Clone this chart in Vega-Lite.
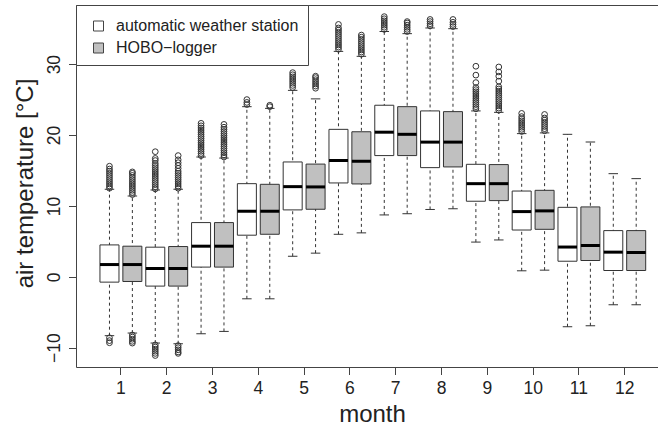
{
  "$schema": "https://vega.github.io/schema/vega-lite/v6.json",
  "width": 582,
  "height": 362,
  "autosize": "none",
  "padding": {"left": 76, "top": 5, "right": 0, "bottom": 62},
  "background": "white",
  "config": {
    "font": "Liberation Sans",
    "view": {"stroke": null},
    "axis": {"grid": false, "domainColor": "#444", "tickColor": "#444", "labelColor": "#222", "titleColor": "#222", "titleFontWeight": "normal"}
  },
  "datasets": {
    "boxes": [
      {"month": 1, "device": "automatic weather station", "lo": -8.3, "q1": -0.75, "med": 1.73, "q3": 4.5, "hi": 12.35},
      {"month": 1, "device": "HOBO−logger", "lo": -7.93, "q1": -0.66, "med": 1.73, "q3": 4.32, "hi": 11.4},
      {"month": 2, "device": "automatic weather station", "lo": -9.34, "q1": -1.31, "med": 1.17, "q3": 4.18, "hi": 12.25},
      {"month": 2, "device": "HOBO−logger", "lo": -9.44, "q1": -1.31, "med": 1.17, "q3": 4.27, "hi": 12.35},
      {"month": 3, "device": "automatic weather station", "lo": -8.03, "q1": 1.37, "med": 4.32, "q3": 7.65, "hi": 16.9},
      {"month": 3, "device": "HOBO−logger", "lo": -7.7, "q1": 1.37, "med": 4.32, "q3": 7.65, "hi": 16.75},
      {"month": 4, "device": "automatic weather station", "lo": -3.1, "q1": 5.87, "med": 9.25, "q3": 13.14, "hi": 24.0},
      {"month": 4, "device": "HOBO−logger", "lo": -3.1, "q1": 6.0, "med": 9.25, "q3": 13.05, "hi": 23.76},
      {"month": 5, "device": "automatic weather station", "lo": 2.9, "q1": 9.44, "med": 12.72, "q3": 16.2, "hi": 26.3},
      {"month": 5, "device": "HOBO−logger", "lo": 3.34, "q1": 9.53, "med": 12.68, "q3": 15.9, "hi": 25.1},
      {"month": 6, "device": "automatic weather station", "lo": 6.0, "q1": 13.24, "med": 16.4, "q3": 20.8, "hi": 31.8},
      {"month": 6, "device": "HOBO−logger", "lo": 6.2, "q1": 13.1, "med": 16.3, "q3": 20.46, "hi": 31.1},
      {"month": 7, "device": "automatic weather station", "lo": 8.73, "q1": 17.1, "med": 20.4, "q3": 24.2, "hi": 34.6},
      {"month": 7, "device": "HOBO−logger", "lo": 8.9, "q1": 17.1, "med": 20.1, "q3": 24.0, "hi": 34.3},
      {"month": 8, "device": "automatic weather station", "lo": 9.5, "q1": 15.4, "med": 19.0, "q3": 23.4, "hi": 35.1},
      {"month": 8, "device": "HOBO−logger", "lo": 9.6, "q1": 15.5, "med": 19.0, "q3": 23.3, "hi": 35.0},
      {"month": 9, "device": "automatic weather station", "lo": 4.9, "q1": 10.66, "med": 13.14, "q3": 15.87, "hi": 23.4},
      {"month": 9, "device": "HOBO−logger", "lo": 5.2, "q1": 10.75, "med": 13.14, "q3": 15.83, "hi": 23.2},
      {"month": 10, "device": "automatic weather station", "lo": 0.85, "q1": 6.6, "med": 9.2, "q3": 12.1, "hi": 20.2},
      {"month": 10, "device": "HOBO−logger", "lo": 0.94, "q1": 6.7, "med": 9.3, "q3": 12.2, "hi": 20.3},
      {"month": 11, "device": "automatic weather station", "lo": -7.04, "q1": 2.2, "med": 4.2, "q3": 9.8, "hi": 20.1},
      {"month": 11, "device": "HOBO−logger", "lo": -6.9, "q1": 2.3, "med": 4.4, "q3": 9.86, "hi": 19.0},
      {"month": 12, "device": "automatic weather station", "lo": -3.94, "q1": 0.89, "med": 3.48, "q3": 6.52, "hi": 14.55},
      {"month": 12, "device": "HOBO−logger", "lo": -3.94, "q1": 0.89, "med": 3.43, "q3": 6.52, "hi": 13.85}
    ],
    "outliers": [
      {"month": 1, "device": "automatic weather station", "t": 12.5}, {"month": 1, "device": "automatic weather station", "t": 12.8}, {"month": 1, "device": "automatic weather station", "t": 13.1}, {"month": 1, "device": "automatic weather station", "t": 13.4}, {"month": 1, "device": "automatic weather station", "t": 13.7}, {"month": 1, "device": "automatic weather station", "t": 14.0}, {"month": 1, "device": "automatic weather station", "t": 14.3}, {"month": 1, "device": "automatic weather station", "t": 14.6}, {"month": 1, "device": "automatic weather station", "t": 14.9}, {"month": 1, "device": "automatic weather station", "t": 15.2}, {"month": 1, "device": "automatic weather station", "t": 15.6}, {"month": 1, "device": "automatic weather station", "t": -8.6}, {"month": 1, "device": "automatic weather station", "t": -9.0}, {"month": 1, "device": "automatic weather station", "t": -9.3},
      {"month": 1, "device": "HOBO−logger", "t": 11.6}, {"month": 1, "device": "HOBO−logger", "t": 11.9}, {"month": 1, "device": "HOBO−logger", "t": 12.2}, {"month": 1, "device": "HOBO−logger", "t": 12.5}, {"month": 1, "device": "HOBO−logger", "t": 12.8}, {"month": 1, "device": "HOBO−logger", "t": 13.1}, {"month": 1, "device": "HOBO−logger", "t": 13.4}, {"month": 1, "device": "HOBO−logger", "t": 13.7}, {"month": 1, "device": "HOBO−logger", "t": 14.0}, {"month": 1, "device": "HOBO−logger", "t": 14.3}, {"month": 1, "device": "HOBO−logger", "t": 14.6}, {"month": 1, "device": "HOBO−logger", "t": 14.8}, {"month": 1, "device": "HOBO−logger", "t": -8.2}, {"month": 1, "device": "HOBO−logger", "t": -8.5}, {"month": 1, "device": "HOBO−logger", "t": -8.8}, {"month": 1, "device": "HOBO−logger", "t": -9.1}, {"month": 1, "device": "HOBO−logger", "t": -9.35},
      {"month": 2, "device": "automatic weather station", "t": 12.4}, {"month": 2, "device": "automatic weather station", "t": 12.7}, {"month": 2, "device": "automatic weather station", "t": 13.0}, {"month": 2, "device": "automatic weather station", "t": 13.3}, {"month": 2, "device": "automatic weather station", "t": 13.6}, {"month": 2, "device": "automatic weather station", "t": 13.9}, {"month": 2, "device": "automatic weather station", "t": 14.2}, {"month": 2, "device": "automatic weather station", "t": 14.5}, {"month": 2, "device": "automatic weather station", "t": 14.8}, {"month": 2, "device": "automatic weather station", "t": 15.1}, {"month": 2, "device": "automatic weather station", "t": 15.4}, {"month": 2, "device": "automatic weather station", "t": 15.7}, {"month": 2, "device": "automatic weather station", "t": 16.0}, {"month": 2, "device": "automatic weather station", "t": 16.4}, {"month": 2, "device": "automatic weather station", "t": 16.7}, {"month": 2, "device": "automatic weather station", "t": 17.65}, {"month": 2, "device": "automatic weather station", "t": -9.6}, {"month": 2, "device": "automatic weather station", "t": -9.9}, {"month": 2, "device": "automatic weather station", "t": -10.2}, {"month": 2, "device": "automatic weather station", "t": -10.5}, {"month": 2, "device": "automatic weather station", "t": -10.8}, {"month": 2, "device": "automatic weather station", "t": -11.1},
      {"month": 2, "device": "HOBO−logger", "t": 12.5}, {"month": 2, "device": "HOBO−logger", "t": 12.8}, {"month": 2, "device": "HOBO−logger", "t": 13.1}, {"month": 2, "device": "HOBO−logger", "t": 13.4}, {"month": 2, "device": "HOBO−logger", "t": 13.7}, {"month": 2, "device": "HOBO−logger", "t": 14.0}, {"month": 2, "device": "HOBO−logger", "t": 14.3}, {"month": 2, "device": "HOBO−logger", "t": 14.6}, {"month": 2, "device": "HOBO−logger", "t": 14.9}, {"month": 2, "device": "HOBO−logger", "t": 15.3}, {"month": 2, "device": "HOBO−logger", "t": 15.7}, {"month": 2, "device": "HOBO−logger", "t": 16.1}, {"month": 2, "device": "HOBO−logger", "t": 16.5}, {"month": 2, "device": "HOBO−logger", "t": 17.1}, {"month": 2, "device": "HOBO−logger", "t": -9.7}, {"month": 2, "device": "HOBO−logger", "t": -10.0}, {"month": 2, "device": "HOBO−logger", "t": -10.3}, {"month": 2, "device": "HOBO−logger", "t": -10.6}, {"month": 2, "device": "HOBO−logger", "t": -10.8},
      {"month": 3, "device": "automatic weather station", "t": 17.1}, {"month": 3, "device": "automatic weather station", "t": 17.4}, {"month": 3, "device": "automatic weather station", "t": 17.7}, {"month": 3, "device": "automatic weather station", "t": 18.0}, {"month": 3, "device": "automatic weather station", "t": 18.3}, {"month": 3, "device": "automatic weather station", "t": 18.6}, {"month": 3, "device": "automatic weather station", "t": 18.9}, {"month": 3, "device": "automatic weather station", "t": 19.2}, {"month": 3, "device": "automatic weather station", "t": 19.5}, {"month": 3, "device": "automatic weather station", "t": 19.8}, {"month": 3, "device": "automatic weather station", "t": 20.1}, {"month": 3, "device": "automatic weather station", "t": 20.4}, {"month": 3, "device": "automatic weather station", "t": 20.7}, {"month": 3, "device": "automatic weather station", "t": 21.0}, {"month": 3, "device": "automatic weather station", "t": 21.3}, {"month": 3, "device": "automatic weather station", "t": 21.65},
      {"month": 3, "device": "HOBO−logger", "t": 16.9}, {"month": 3, "device": "HOBO−logger", "t": 17.2}, {"month": 3, "device": "HOBO−logger", "t": 17.5}, {"month": 3, "device": "HOBO−logger", "t": 17.8}, {"month": 3, "device": "HOBO−logger", "t": 18.1}, {"month": 3, "device": "HOBO−logger", "t": 18.4}, {"month": 3, "device": "HOBO−logger", "t": 18.7}, {"month": 3, "device": "HOBO−logger", "t": 19.0}, {"month": 3, "device": "HOBO−logger", "t": 19.3}, {"month": 3, "device": "HOBO−logger", "t": 19.6}, {"month": 3, "device": "HOBO−logger", "t": 19.9}, {"month": 3, "device": "HOBO−logger", "t": 20.2}, {"month": 3, "device": "HOBO−logger", "t": 20.5}, {"month": 3, "device": "HOBO−logger", "t": 20.8}, {"month": 3, "device": "HOBO−logger", "t": 21.1}, {"month": 3, "device": "HOBO−logger", "t": 21.5},
      {"month": 4, "device": "automatic weather station", "t": 24.3}, {"month": 4, "device": "automatic weather station", "t": 24.6}, {"month": 4, "device": "automatic weather station", "t": 25.0},
      {"month": 4, "device": "HOBO−logger", "t": 24.0}, {"month": 4, "device": "HOBO−logger", "t": 24.2},
      {"month": 5, "device": "automatic weather station", "t": 26.7}, {"month": 5, "device": "automatic weather station", "t": 27.0}, {"month": 5, "device": "automatic weather station", "t": 27.3}, {"month": 5, "device": "automatic weather station", "t": 27.6}, {"month": 5, "device": "automatic weather station", "t": 27.9}, {"month": 5, "device": "automatic weather station", "t": 28.2}, {"month": 5, "device": "automatic weather station", "t": 28.5}, {"month": 5, "device": "automatic weather station", "t": 28.8},
      {"month": 5, "device": "HOBO−logger", "t": 26.6}, {"month": 5, "device": "HOBO−logger", "t": 26.9}, {"month": 5, "device": "HOBO−logger", "t": 27.2}, {"month": 5, "device": "HOBO−logger", "t": 27.5}, {"month": 5, "device": "HOBO−logger", "t": 27.8}, {"month": 5, "device": "HOBO−logger", "t": 28.1}, {"month": 5, "device": "HOBO−logger", "t": 28.3},
      {"month": 6, "device": "automatic weather station", "t": 32.1}, {"month": 6, "device": "automatic weather station", "t": 32.4}, {"month": 6, "device": "automatic weather station", "t": 32.7}, {"month": 6, "device": "automatic weather station", "t": 33.0}, {"month": 6, "device": "automatic weather station", "t": 33.3}, {"month": 6, "device": "automatic weather station", "t": 33.6}, {"month": 6, "device": "automatic weather station", "t": 33.9}, {"month": 6, "device": "automatic weather station", "t": 34.2}, {"month": 6, "device": "automatic weather station", "t": 34.5}, {"month": 6, "device": "automatic weather station", "t": 34.8}, {"month": 6, "device": "automatic weather station", "t": 35.1}, {"month": 6, "device": "automatic weather station", "t": 35.6},
      {"month": 6, "device": "HOBO−logger", "t": 31.4}, {"month": 6, "device": "HOBO−logger", "t": 31.7}, {"month": 6, "device": "HOBO−logger", "t": 32.0}, {"month": 6, "device": "HOBO−logger", "t": 32.3}, {"month": 6, "device": "HOBO−logger", "t": 32.6}, {"month": 6, "device": "HOBO−logger", "t": 32.9}, {"month": 6, "device": "HOBO−logger", "t": 33.2}, {"month": 6, "device": "HOBO−logger", "t": 33.5}, {"month": 6, "device": "HOBO−logger", "t": 33.8}, {"month": 6, "device": "HOBO−logger", "t": 34.1},
      {"month": 7, "device": "automatic weather station", "t": 34.9}, {"month": 7, "device": "automatic weather station", "t": 35.2}, {"month": 7, "device": "automatic weather station", "t": 35.5}, {"month": 7, "device": "automatic weather station", "t": 35.8}, {"month": 7, "device": "automatic weather station", "t": 36.1}, {"month": 7, "device": "automatic weather station", "t": 36.4}, {"month": 7, "device": "automatic weather station", "t": 36.7},
      {"month": 7, "device": "HOBO−logger", "t": 34.6}, {"month": 7, "device": "HOBO−logger", "t": 34.9}, {"month": 7, "device": "HOBO−logger", "t": 35.2}, {"month": 7, "device": "HOBO−logger", "t": 35.5}, {"month": 7, "device": "HOBO−logger", "t": 35.8}, {"month": 7, "device": "HOBO−logger", "t": 36.0},
      {"month": 8, "device": "automatic weather station", "t": 35.4}, {"month": 8, "device": "automatic weather station", "t": 35.7}, {"month": 8, "device": "automatic weather station", "t": 36.0}, {"month": 8, "device": "automatic weather station", "t": 36.3},
      {"month": 8, "device": "HOBO−logger", "t": 35.3}, {"month": 8, "device": "HOBO−logger", "t": 35.6}, {"month": 8, "device": "HOBO−logger", "t": 35.9}, {"month": 8, "device": "HOBO−logger", "t": 36.3},
      {"month": 9, "device": "automatic weather station", "t": 23.7}, {"month": 9, "device": "automatic weather station", "t": 24.0}, {"month": 9, "device": "automatic weather station", "t": 24.3}, {"month": 9, "device": "automatic weather station", "t": 24.6}, {"month": 9, "device": "automatic weather station", "t": 24.9}, {"month": 9, "device": "automatic weather station", "t": 25.2}, {"month": 9, "device": "automatic weather station", "t": 25.5}, {"month": 9, "device": "automatic weather station", "t": 25.8}, {"month": 9, "device": "automatic weather station", "t": 26.1}, {"month": 9, "device": "automatic weather station", "t": 26.4}, {"month": 9, "device": "automatic weather station", "t": 26.7}, {"month": 9, "device": "automatic weather station", "t": 27.4}, {"month": 9, "device": "automatic weather station", "t": 28.45}, {"month": 9, "device": "automatic weather station", "t": 29.7},
      {"month": 9, "device": "HOBO−logger", "t": 23.5}, {"month": 9, "device": "HOBO−logger", "t": 23.8}, {"month": 9, "device": "HOBO−logger", "t": 24.1}, {"month": 9, "device": "HOBO−logger", "t": 24.4}, {"month": 9, "device": "HOBO−logger", "t": 24.7}, {"month": 9, "device": "HOBO−logger", "t": 25.0}, {"month": 9, "device": "HOBO−logger", "t": 25.3}, {"month": 9, "device": "HOBO−logger", "t": 25.6}, {"month": 9, "device": "HOBO−logger", "t": 25.9}, {"month": 9, "device": "HOBO−logger", "t": 26.2}, {"month": 9, "device": "HOBO−logger", "t": 26.5}, {"month": 9, "device": "HOBO−logger", "t": 26.8}, {"month": 9, "device": "HOBO−logger", "t": 27.6}, {"month": 9, "device": "HOBO−logger", "t": 28.3}, {"month": 9, "device": "HOBO−logger", "t": 28.9}, {"month": 9, "device": "HOBO−logger", "t": 29.6},
      {"month": 10, "device": "automatic weather station", "t": 20.5}, {"month": 10, "device": "automatic weather station", "t": 20.8}, {"month": 10, "device": "automatic weather station", "t": 21.1}, {"month": 10, "device": "automatic weather station", "t": 21.4}, {"month": 10, "device": "automatic weather station", "t": 21.7}, {"month": 10, "device": "automatic weather station", "t": 22.0}, {"month": 10, "device": "automatic weather station", "t": 22.3}, {"month": 10, "device": "automatic weather station", "t": 22.6}, {"month": 10, "device": "automatic weather station", "t": 23.05},
      {"month": 10, "device": "HOBO−logger", "t": 20.6}, {"month": 10, "device": "HOBO−logger", "t": 20.9}, {"month": 10, "device": "HOBO−logger", "t": 21.2}, {"month": 10, "device": "HOBO−logger", "t": 21.5}, {"month": 10, "device": "HOBO−logger", "t": 21.8}, {"month": 10, "device": "HOBO−logger", "t": 22.1}, {"month": 10, "device": "HOBO−logger", "t": 22.4}, {"month": 10, "device": "HOBO−logger", "t": 22.9}
    ]
  },
  "resolve": {"axis": {"x": "independent"}},
  "layer": [
    {
      "data": {"name": "boxes"},
      "mark": {"type": "rule", "stroke": "#333", "strokeWidth": 1, "strokeDash": [3, 3], "opacity": 1},
      "encoding": {
        "x": {
          "field": "month", "type": "ordinal",
          "scale": {"type": "band", "domain": [1, 2, 3, 4, 5, 6, 7, 8, 9, 10, 11, 12], "paddingInner": 0, "paddingOuter": 0.3535, "align": 0.68},
          "axis": {"orient": "bottom", "labelAngle": 0, "labelFontSize": 17.5, "tickSize": 7.5, "labelPadding": 18.5, "labelBaseline": "alphabetic", "title": "month", "titleFontSize": 24, "titleX": 296, "titleY": 54.7, "titleAlign": "center", "titleBaseline": "alphabetic", "domainWidth": 1}
        },
        "xOffset": {"field": "device", "type": "nominal", "scale": {"domain": ["automatic weather station", "HOBO−logger"], "paddingInner": 0.17, "paddingOuter": 0.085}},
        "y": {
          "field": "lo", "type": "quantitative",
          "scale": {"domain": [-12.72, 38.34], "nice": false, "zero": false},
          "axis": {"values": [-10, 0, 10, 20, 30], "labelAngle": -90, "labelAlign": "center", "labelBaseline": "alphabetic", "labelFontSize": 17.5, "tickSize": 7.5, "labelPadding": 9.5, "title": "air temperature [°C]", "titleFontSize": 24, "titleAngle": -90, "titleX": -43.5, "titleY": 178, "titleAlign": "center", "titleBaseline": "alphabetic"}
        },
        "y2": {"field": "hi"}
      }
    },
    {
      "data": {"name": "boxes"},
      "mark": {"type": "tick", "color": "#333", "thickness": 1, "size": 9.5, "opacity": 1},
      "encoding": {
        "x": {"field": "month", "type": "ordinal", "axis": {"orient": "top", "ticks": false, "labels": false, "title": null, "domainWidth": 1}},
        "xOffset": {"field": "device", "type": "nominal"},
        "y": {"field": "lo", "type": "quantitative"}
      }
    },
    {
      "data": {"name": "boxes"},
      "mark": {"type": "tick", "color": "#333", "thickness": 1, "size": 9.5, "opacity": 1},
      "encoding": {
        "x": {"field": "month", "type": "ordinal", "axis": null},
        "xOffset": {"field": "device", "type": "nominal"},
        "y": {"field": "hi", "type": "quantitative"}
      }
    },
    {
      "data": {"name": "boxes"},
      "mark": {"type": "bar", "stroke": "#333", "strokeWidth": 1, "opacity": 1},
      "encoding": {
        "x": {"field": "month", "type": "ordinal", "axis": null},
        "xOffset": {"field": "device", "type": "nominal"},
        "y": {"field": "q1", "type": "quantitative"},
        "y2": {"field": "q3"},
        "fill": {
          "field": "device", "type": "nominal",
          "scale": {"domain": ["automatic weather station", "HOBO−logger"], "range": ["#ffffff", "#c0c0c0"]},
          "legend": {"orient": "none", "legendX": 0, "legendY": 0, "title": " ", "titleFontSize": 4, "titlePadding": 0, "strokeColor": "#444", "fillColor": "white", "padding": 9, "symbolType": "square", "symbolSize": 100, "symbolStrokeColor": "#444", "symbolStrokeWidth": 1, "symbolOpacity": 1, "symbolOffset": 5.5, "labelFontSize": 16, "labelOffset": 9.5, "labelLimit": 0, "labelColor": "#222", "rowPadding": 6}
        }
      }
    },
    {
      "data": {"name": "boxes"},
      "mark": {"type": "tick", "color": "#000", "thickness": 3, "size": 19, "opacity": 1},
      "encoding": {
        "x": {"field": "month", "type": "ordinal", "axis": null},
        "xOffset": {"field": "device", "type": "nominal"},
        "y": {"field": "med", "type": "quantitative"}
      }
    },
    {
      "data": {"name": "outliers"},
      "mark": {"type": "point", "shape": "circle", "filled": false, "stroke": "#333", "strokeWidth": 1, "size": 33, "opacity": 1},
      "encoding": {
        "x": {"field": "month", "type": "ordinal", "axis": null},
        "xOffset": {"field": "device", "type": "nominal"},
        "y": {"field": "t", "type": "quantitative"}
      }
    }
  ]
}
